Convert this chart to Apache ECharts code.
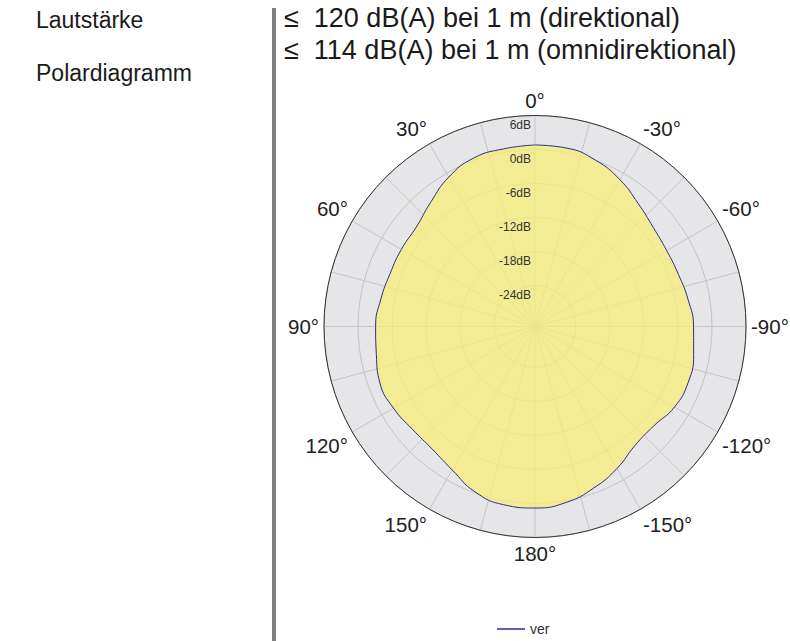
<!DOCTYPE html>
<html>
<head>
<meta charset="utf-8">
<script src="https://cdn.jsdelivr.net/npm/echarts@6/dist/echarts.min.js"></script>
<style>
html,body{margin:0;padding:0;background:#fff;}
#main{width:790px;height:641px;}
</style>
</head>
<body>
<div id="main"></div>
<script>
// ---- data ----
const angles = [0,10,20,30,40,50,60,70,80,90,100,110,120,130,140,150,160,170,180,190,200,210,220,230,240,250,260,270,280,290,300,310,320,330,340,350,360];
const ver = [0.8,0.6,0.4,-0.8,-2.6,-3.9,-4.0,-4.0,-3.6,-3.1,-2.8,-2.1,-2.4,-3.0,-3.0,-2.0,-0.2,0.7,0.8,0.3,-0.9,-2.3,-3.8,-3.9,-2.8,-2.45,-2.8,-3.25,-3.8,-4.3,-4.4,-4.0,-2.9,-1.3,0.0,0.75,0.8];
const radiusTicks = [-24,-18,-12,-6,0,6];
const angleTickValues = [0,30,60,90,120,150,180,210,240,270,300,330];
const angleTickLabels = ['0°','30°','60°','90°','120°','150°','180°','-150°','-120°','-90°','-60°','-30°'];
const seriesName = 'ver';
const headLabels = ['Lautstärke','Polardiagramm'];
const headValues = ['≤  120 dB(A) bei 1 m (direktional)','≤  114 dB(A) bei 1 m (omnidirektional)'];

const FONT = '"Liberation Sans", Arial, sans-serif';
const C = [535,326.5], R = 211, RMIN = -31.2, RMAX = 6;
const chart = echarts.init(document.getElementById('main'), null, {renderer:'svg'});
const hidden = {axisLine:{show:false}, axisTick:{show:false}, axisLabel:{show:false}, splitLine:{show:false}};
const option = {
  animation:false,
  backgroundColor:'#ffffff',
  textStyle:{fontFamily:FONT},
  polar:[{center:C, radius:R},{center:C, radius:R},{center:C, radius:R}],
  angleAxis:[
    Object.assign({polarIndex:0, type:'value', min:0, max:360, interval:90, startAngle:90, clockwise:false, z:0,
      splitArea:{show:true, areaStyle:{color:['#e6e6e8'], borderWidth:0}}}, hidden),
    {polarIndex:1, type:'value', min:0, max:360, interval:15, startAngle:90, clockwise:false, z:1,
      axisLine:{show:true, lineStyle:{color:'#333333', width:1}},
      axisTick:{show:false},
      axisLabel:{show:true, margin:5, color:'#222222', fontSize:20.5, fontFamily:FONT,
        formatter:function(v){ const i = angleTickValues.indexOf(v); return i>=0 ? angleTickLabels[i] : ''; }},
      splitLine:{show:true, lineStyle:{color:'#c4c4c4', width:1}},
      splitArea:{show:false}},
    Object.assign({polarIndex:2, type:'value', min:0, max:360, interval:15, startAngle:90, clockwise:false, z:3}, hidden)
  ],
  radiusAxis:[
    Object.assign({polarIndex:0, type:'value', min:RMIN, max:RMAX, z:0}, hidden),
    {polarIndex:1, type:'value', min:RMIN, max:RMAX, z:1,
      axisLine:{show:false},
      axisTick:{show:false, customValues:radiusTicks},
      axisLabel:{show:false, customValues:radiusTicks},
      splitLine:{show:true, lineStyle:{color:'#c4c4c4', width:1}}},
    {polarIndex:2, type:'value', min:RMIN, max:RMAX, z:3,
      axisLine:{show:false},
      axisTick:{show:false, customValues:radiusTicks},
      axisLabel:{show:true, customValues:radiusTicks, formatter:'{value}dB', color:'#333333', fontSize:12, fontFamily:FONT, margin:4, verticalAlign:'top', padding:[3,0,0,0]},
      splitLine:{show:false}}
  ],
  legend:{
    data:[{name:seriesName, icon:'rect'}], left:492, top:617, itemWidth:28, itemHeight:1.5, itemGap:5,
    textStyle:{fontSize:14, color:'#333333', fontFamily:FONT}
  },
  series:[{
    name:seriesName, type:'line', coordinateSystem:'polar', polarIndex:1, z:2,
    data: angles.map((a,i)=>[ver[i], a]),
    smooth:true, symbol:'none',
    lineStyle:{color:'#2b2b92', width:1},
    itemStyle:{color:'#2b2b92'},
    areaStyle:{color:'rgba(248,237,119,0.75)', opacity:1, origin:'start'}
  }],
  graphic:[
    {type:'rect', left:272, top:8, shape:{width:4, height:633}, style:{fill:'#808080'}},
    {type:'text', left:36, top:8, style:{text:headLabels[0], font:'23px '+FONT, fill:'#1a1a1a'}},
    {type:'text', left:36, top:61, style:{text:headLabels[1], font:'23px '+FONT, fill:'#1a1a1a'}},
    {type:'text', left:284, top:4.5, style:{text:headValues[0], font:'27px '+FONT, fill:'#1a1a1a'}},
    {type:'text', left:284, top:36.5, style:{text:headValues[1], font:'27px '+FONT, fill:'#1a1a1a'}}
  ]
};
chart.setOption(option);
</script>
</body>
</html>
